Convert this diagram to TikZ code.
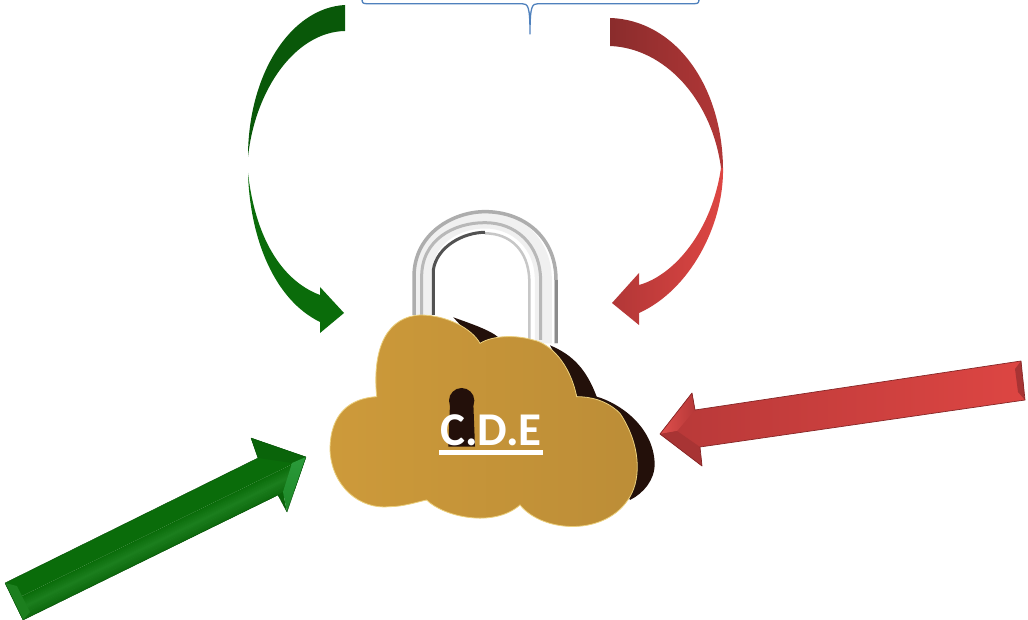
\documentclass[tikz,border=0pt]{standalone}
\usepackage{fontspec}
\setmainfont{Carlito}
\usetikzlibrary{calc}
\definecolor{gdark}{HTML}{0A640A}
\definecolor{gmid}{HTML}{0A6C0A}
\definecolor{glight}{HTML}{2A9A3A}
\definecolor{gband}{HTML}{1C7F1E}
\definecolor{gedge}{HTML}{075007}
\definecolor{rdark}{HTML}{8A2C2C}
\definecolor{rmid}{HTML}{B63838}
\definecolor{rlight}{HTML}{DE4643}
\definecolor{redge}{HTML}{862626}
\definecolor{goldhi}{HTML}{CD9A3A}
\definecolor{goldlo}{HTML}{BC8D37}
\definecolor{goldrim}{HTML}{EBCF7C}
\definecolor{lockdark}{HTML}{23100A}
\definecolor{bracecol}{HTML}{4F81BD}
\begin{document}
\begin{tikzpicture}[x=1pt,y=-1pt,
  bracestyle/.style={draw=bracecol,line width=1.3pt,line cap=round,line join=round},
  shacklestyle/.style={line cap=butt,fill=none}]
\useasboundingbox[fill=white] (0,0) rectangle (1028,620);

% curly brace
\draw[bracestyle] (362,-1) .. controls (362,3) and (363,3.7) .. (367,3.7) -- (522,3.7)
  .. controls (528,3.7) and (530,6) .. (530,34)
  .. controls (530,6) and (532,3.7) .. (538,3.7) -- (694,3.7)
  .. controls (698,3.7) and (699,3) .. (699,-1);

% green curved arrow, upper part
\fill[gdark!88!black] (345,5) .. controls (290,8) and (248,75) .. (248,157)
  .. controls (255,90) and (295,32) .. (345,31) -- cycle;
% green curved arrow, lower part
\fill[gmid] (248,173) .. controls (250,240) and (275,300) .. (320,322)
  -- (320,333) -- (344,313) -- (320,287) -- (320,295)
  .. controls (280,280) and (255,235) .. (248,173) -- cycle;

% red curved arrow, upper part
\shade[left color=rdark,right color=rmid!90!rdark] (610,18) .. controls (675,20) and (722,85) .. (723,168)
  -- (721,168) .. controls (712,100) and (665,48) .. (610,46) -- cycle;
% red curved arrow, lower part
\shade[left color=rmid!90!rdark,right color=rlight] (723,168) .. controls (724,225) and (690,290) .. (639,313)
  -- (639,325) -- (612,303) -- (639,273) -- (639,285)
  .. controls (675,275) and (712,230) .. (721,168) -- cycle;

% straight green arrow
\begin{scope}
  \clip (5,583) -- (258,458) -- (251,438) -- (306,457) -- (287,512) -- (278,495) -- (23,620) -- cycle;
  \fill[gmid,rotate around={26:(14,601)}] (-30,550) rectangle (340,600);
  \foreach \k in {0,...,10} {
    \pgfmathtruncatemacro{\p}{\k*10}
    \fill[gband!\p!gmid,rotate around={26:(14,601)}] (-30,600+\k) rectangle (340,601.6+\k);
  }
  \foreach \k in {0,...,13} {
    \pgfmathtruncatemacro{\p}{100-\k*7}
    \fill[gband!\p!gdark,rotate around={26:(14,601)}] (-30,610+\k) rectangle (340,611.6+\k);
  }
  \fill[gdark] (258,458) -- (251,438) -- (306,457) -- (292,463) -- cycle;
  \fill[gdark] (278,495) -- (287,512) -- (283,492) -- cycle;
  \shade[top color=glight,bottom color=glight!60!gmid] (306,457) -- (292,463) -- (283,492) -- (287,512) -- cycle;
  \fill[gband] (5,583) -- (23,620) -- (30,612) -- (17,586) -- cycle;
\end{scope}
\draw[gedge,line width=.4pt,line join=round] (5,583) -- (258,458) -- (251,438) -- (306,457) -- (287,512) -- (278,495) -- (23,620) -- cycle;

% straight red arrow
\begin{scope}
  \clip (1021,361) -- (1025,400) -- (700,447) -- (702,466) -- (660,434) -- (692,393) -- (695,410) -- cycle;
  \shade[left color=rmid,right color=rlight,rotate around={8:(1023,380)}] (650,340) rectangle (1030,420);
  \fill[rmid!92!black] (1021,361) -- (1025,400) -- (1018,392) -- (1015,369) -- cycle;
  \shade[left color=rlight!95!white,right color=rmid] (660,434) -- (692,393) -- (695,410) -- (677,431) -- cycle;
  \fill[rmid!92!black] (660,434) -- (677,431) -- (700,447) -- (702,466) -- cycle;
\end{scope}
\draw[redge,line width=.7pt,line join=round] (1021,361) -- (1025,400) -- (700,447) -- (702,466) -- (660,434) -- (692,393) -- (695,410) -- cycle;

% padlock, drawn in the coordinates of the 3x crop at (320,200)
\begin{scope}[shift={(320,200)},x=0.33333pt,y=-0.33333pt]
  % shackle
  \draw[shacklestyle,line width=17pt,black!6] (310,360) -- (310,230) .. controls (310,110) and (410,60) .. (495,60)
     .. controls (590,60) and (670,130) .. (670,240) -- (670,430);
  \draw[shacklestyle,line width=3.5pt,black!32] (282,345) -- (282,230) .. controls (282,100) and (400,35) .. (495,35)
     .. controls (610,35) and (708,110) .. (708,240) -- (708,430);
  \draw[shacklestyle,line width=3pt,black!45] (708,240) -- (708,430);
  \draw[shacklestyle,line width=3pt,black!28] (305,345) -- (305,230) .. controls (305,120) and (400,68) .. (495,68)
     .. controls (585,68) and (660,130) .. (662,240) -- (662,420);
  \draw[shacklestyle,line width=2.5pt,black!22] (495,100) .. controls (570,100) and (625,150) .. (628,240) -- (628,420);
  \draw[shacklestyle,line width=3pt,black!68] (340,345) -- (340,210) .. controls (350,140) and (430,97) .. (495,97);
  % back of the body
  \fill[lockdark] (400,352) .. controls (450,370) and (510,390) .. (535,412) -- (480,440) -- cycle;
  \fill[lockdark] (690,436) .. controls (760,465) and (800,510) .. (830,590)
     .. controls (900,610) and (1000,680) .. (1004,790)
     .. controls (1005,840) and (970,880) .. (930,900) -- (800,640) -- cycle;
  % body
  \shade[left color=goldhi,right color=goldlo,draw=goldrim,line width=.8pt]
    (170,590) .. controls (90,595) and (30,640) .. (30,750)
    .. controls (35,860) and (120,930) .. (210,920)
    .. controls (250,920) and (295,905) .. (320,900)
    .. controls (370,950) and (520,985) .. (600,915)
    .. controls (670,1000) and (860,1010) .. (930,890)
    .. controls (965,830) and (960,730) .. (900,640)
    .. controls (860,600) and (810,590) .. (770,590)
    .. controls (750,490) and (690,430) .. (640,420)
    .. controls (590,405) and (520,405) .. (480,430)
    .. controls (455,385) and (380,345) .. (300,345)
    .. controls (210,350) and (155,430) .. (170,590) -- cycle;
  % keyhole
  \fill[lockdark] (425,602) circle[radius=38];
  \fill[lockdark] (390,610) -- (460,610) -- (465,740) -- (385,740) -- cycle;
\end{scope}

% label
\node[text=white,font=\fontsize{47}{47}\selectfont\bfseries,inner sep=0pt,anchor=base] (cde) at (491,445) {C.D.E};
\fill[white] ($(cde.base west)+(-1,5)$) rectangle ($(cde.base east)+(1,9.5)$);
\end{tikzpicture}
\end{document}
